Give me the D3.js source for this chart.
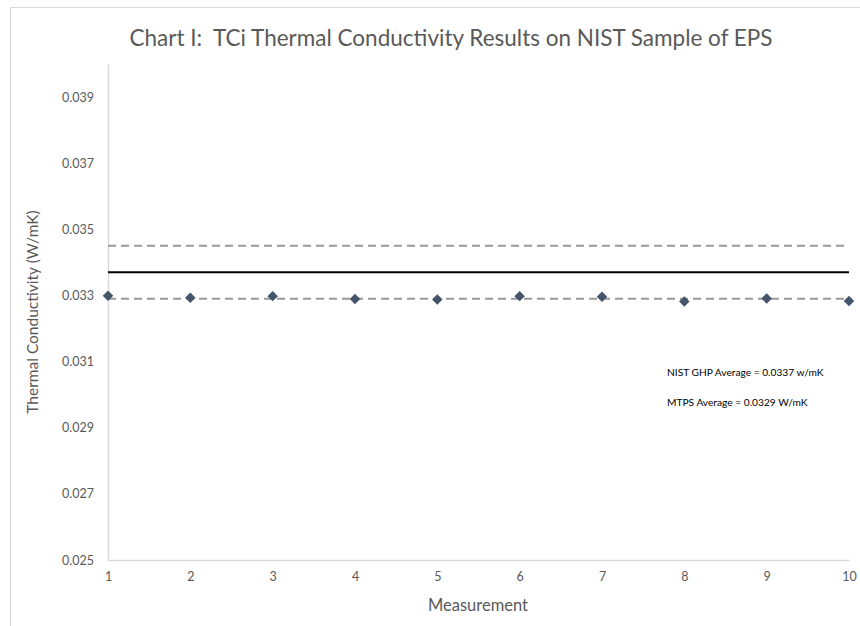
<!DOCTYPE html>
<html>
<head>
<meta charset="utf-8">
<script src="https://cdn.jsdelivr.net/npm/d3@7"></script>
<style>
  html, body { margin: 0; padding: 0; background: #fff; }
  svg { display: block; }
  text { font-family: Lato, "Open Sans", sans-serif; white-space: pre; }
</style>
</head>
<body>
<svg id="chart" width="860" height="626"></svg>
<script>
// Measurements on the EPS sample
const measurements = [1, 2, 3, 4, 5, 6, 7, 8, 9, 10];
const conductivity = [0.03299, 0.03293, 0.03298, 0.03289, 0.03288, 0.03298, 0.03296, 0.03282, 0.03291, 0.03283];

// Reference levels
const nistAverage = 0.0337;
const nistUpper = 0.0345;
const mtpsAverage = 0.0329;

const yTicks = [0.025, 0.027, 0.029, 0.031, 0.033, 0.035, 0.037, 0.039];
const xTicks = [1, 2, 3, 4, 5, 6, 7, 8, 9, 10];

const notes = ["NIST GHP Average = 0.0337 w/mK", "MTPS Average = 0.0329 W/mK"];

const svg = d3.select("#chart");

// outer chart border (right and bottom run off the canvas)
svg.append("path")
  .attr("d", "M10.5,626 V7.5 H860")
  .attr("fill", "none")
  .attr("stroke", "#d9d9d9")
  .attr("stroke-width", 1);

const x = d3.scaleLinear().domain([1, 10]).range([108, 849]);
const y = d3.scaleLinear().domain([0.025, 0.040]).range([560, 64]);

// axes
const yAxis = d3.axisLeft(y).tickValues(yTicks).tickFormat(d3.format(".3f")).tickSize(0).tickPadding(14);
const gy = svg.append("g").attr("transform", "translate(108,0)").call(yAxis);
gy.select(".domain").attr("stroke", "#d9d9d9").attr("stroke-width", 1.5);
gy.selectAll("text").attr("fill", "#595959").attr("font-size", 12.5);

const xAxis = d3.axisBottom(x).tickValues(xTicks).tickFormat(d3.format("d")).tickSize(0).tickPadding(12);
const gx = svg.append("g").attr("transform", "translate(0,560)").call(xAxis);
gx.select(".domain").attr("stroke", "#d9d9d9").attr("stroke-width", 1.5);
gx.selectAll("text").attr("fill", "#595959").attr("font-size", 12.5);

// reference lines
const line = d3.line().x(d => x(d[0])).y(d => y(d[1]));
const span = v => [[1, v], [10, v]];

svg.append("path").attr("d", line(span(nistUpper)))
  .attr("fill", "none").attr("stroke", "#999").attr("stroke-width", 2)
  .attr("stroke-dasharray", "8,5");
svg.append("path").attr("d", line(span(mtpsAverage)))
  .attr("fill", "none").attr("stroke", "#999").attr("stroke-width", 2)
  .attr("stroke-dasharray", "8,5");
svg.append("path").attr("d", line(span(nistAverage)))
  .attr("fill", "none").attr("stroke", "#000").attr("stroke-width", 2);

// measured points (diamonds)
svg.append("g").selectAll("path")
  .data(measurements.map((m, i) => [m, conductivity[i]]))
  .join("path")
  .attr("d", d3.symbol().type(d3.symbolDiamond2).size(70))
  .attr("transform", d => `translate(${x(d[0])},${y(d[1])})`)
  .attr("fill", "#44546a");

// annotations
svg.append("g").selectAll("text")
  .data(notes)
  .join("text")
  .attr("x", 667)
  .attr("y", (d, i) => 376 + i * 30)
  .attr("font-size", 10.2)
  .attr("fill", "#000")
  .text(d => d);

// titles
svg.append("text")
  .attr("x", 451).attr("y", 46)
  .attr("text-anchor", "middle")
  .attr("font-size", 22.5)
  .attr("fill", "#595959")
  .text("Chart I:  TCi Thermal Conductivity Results on NIST Sample of EPS");

svg.append("text")
  .attr("x", 478).attr("y", 611)
  .attr("text-anchor", "middle")
  .attr("font-size", 16.5)
  .attr("fill", "#595959")
  .text("Measurement");

svg.append("text")
  .attr("transform", "translate(38,312) rotate(-90)")
  .attr("text-anchor", "middle")
  .attr("font-size", 15.5)
  .attr("fill", "#595959")
  .text("Thermal Conductivity (W/mK)");
</script>
</body>
</html>
